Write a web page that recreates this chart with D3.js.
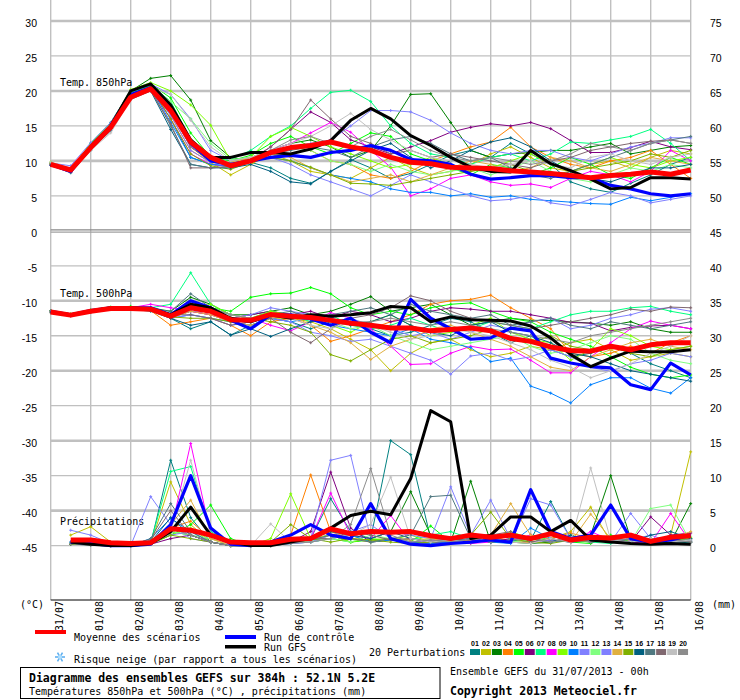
<!DOCTYPE html>
<html>
<head>
<meta charset="utf-8">
<script src="https://cdn.jsdelivr.net/npm/d3@7"></script>
<style>
  body { margin: 0; background: #fff; }
  svg text { font-family: "DejaVu Sans Mono", monospace; fill: #000; }
  .num { font-family: "Liberation Sans", Arial, sans-serif; font-size: 10.5px; }
</style>
</head>
<body>
<svg id="chart" width="740" height="700"></svg>
<script>
// time steps (h) : temperatures from 0h, precipitation from 12h
var hours = d3.range(0, 385, 12);
var rainHours = d3.range(12, 385, 12);
var dayLabels = ["31/07","01/08","02/08","03/08","04/08","05/08","06/08","07/08","08/08",
                 "09/08","10/08","11/08","12/08","13/08","14/08","15/08","16/08"];
var leftTicks = d3.range(30, -46, -5);
var pertLabels = ["01","02","03","04","05","06","07","08","09","10",
                  "11","12","13","14","15","16","17","18","19","20"];
var pertColors = ["#008080","#c0c000","#008000","#ff8000","#00ff00","#800080","#00ff80","#ff00ff","#80ff00","#0080ff",
                  "#8080ff","#80ff80","#8080ff","#e0b040","#80b000","#006080","#507880","#806870","#c0c0c0","#8c8c8c"];

// Temp. 850hPa (°C)
var t850Mean = [9.5,8.7,11.9,14.8,19.1,20.3,17.2,12.7,10.5,9.3, 10.0,11.2,11.9,12.2,12.7,12.0,11.5,10.5,9.8,9.6,
                9.1,9.0,8.9,8.6,8.4,8.2,7.9,7.6,7.9,8.1, 8.4,8.1,8.7];
var t850Ctrl = [9.5,8.5,12.0,15.0,19.5,20.5,17.5,12.5,10.0,9.5, 10.0,10.5,10.8,10.5,11.2,11.5,12.2,11.5,10.2,10.0,
                9.5,8.1,7.4,7.6,7.9,7.9,7.6,7.6,6.5,6.0, 5.3,5.0,5.3];
var t850Gfs = [9.5,8.7,12.0,15.0,20.0,21.0,18.0,13.0,10.5,10.5, 11.2,11.2,11.0,11.7,12.9,15.8,17.5,16.0,13.6,12.2,
               10.5,9.1,8.5,8.4,11.5,9.6,8.6,7.4,6.0,6.2, 7.6,7.6,7.4];
var t850Pert = [
  [9.6,8.4,11.5,14.5,19.2,20.4,16,10.5,9.5,9.2, 9.8,9.0,7.5,6.8,8.5,10.2,9.0,7.5,8.2,9.5, 10.8,11.5,10.5,12.5,11.0,9.5,7.0,6.0,5.5,6.8, 8.0,9.5,10.5],
  [9.8,8.6,12.2,14.8,19.5,20.8,17.5,12.0,9.8,8.0, 9.5,11.0,10.0,8.5,8.0,7.5,9.0,10.5,9.0,8.0, 8.5,9.5,11.0,12.0,10.5,9.0,8.5,9.5,10.0,9.0, 10.5,11.5,11.0],
  [9.5,8.5,12.0,15.0,20.0,21.8,22.2,18.7,12.9,10.5, 10.0,11.5,12.5,13.0,12.0,10.5,11.5,15.0,19.5,19.6, 15.5,11.5,10.5,11.0,11.2,11.5,11.5,12.0,12.5,11.0, 11.5,12.0,12.2],
  [9.4,8.6,12.0,14.5,19.0,20.5,16.5,11.5,9.8,9.5, 10.5,11.5,12.0,11.5,10.0,9.5,8.0,7.5,8.5,10.0, 11.0,12.0,12.7,14.8,12.0,10.5,9.5,9.0,10.0,10.5, 11.5,9.5,7.5],
  [9.7,8.8,12.5,15.5,20.0,21.0,19.0,14.0,10.5,10.0, 10.8,12.5,13.5,12.0,11.0,12.5,14.0,13.5,11.0,10.0, 9.0,8.0,9.5,9.0,8.0,9.0,10.5,9.5,8.0,7.5, 9.0,10.5,9.5],
  [9.5,8.4,11.8,14.8,19.2,20.6,17.0,12.0,10.0,9.5, 10.2,12.0,14.5,17.0,15.5,13.0,12.0,11.0,12.0,12.9, 14.1,14.8,15.3,15.0,15.5,14.6,12.9,11.2,11.2,11.9, 12.8,12.0,11.6],
  [9.6,8.7,12.3,15.2,19.8,20.8,18.5,13.0,10.5,10.2, 11.5,13.5,15.0,17.5,19.8,20.1,18.5,15.0,12.5,11.0, 10.5,9.5,10.5,11.0,10.0,11.0,12.7,12.5,13.0,13.5, 14.5,12.5,10.0],
  [9.4,8.5,11.9,14.6,19.0,20.2,16.0,11.0,9.5,9.2, 10.0,11.5,12.5,14.0,15.5,14.1,11.5,9.1,5.0,6.0, 7.5,8.0,7.0,6.5,6.7,6.2,7.5,8.5,8.0,7.0, 8.5,11.5,10.0],
  [9.8,8.9,12.4,15.3,20.2,21.2,20.0,18.0,15.1,10.0, 10.5,13.5,14.8,13.5,12.0,11.0,10.0,9.0,9.5,10.5, 9.5,8.5,9.0,10.0,11.0,9.5,8.5,9.5,10.5,9.5, 9.0,10.0,10.5],
  [9.5,8.6,12.0,14.8,19.4,20.4,15.5,10.5,9.5,9.3, 10.0,10.5,10.0,9.0,8.0,7.5,7.0,6.0,5.5,5.5, 5.0,5.3,4.8,5.0,4.5,4.3,4.1,3.9,3.8,4.8, 4.3,4.8,5.3],
  [9.7,9.3,12.6,15.5,20.0,21.0,19.5,16.0,11.5,10.0, 10.5,11.5,12.0,12.5,13.0,15.0,17.2,17.2,17.0,15.8, 14.0,12.5,11.5,11.0,11.5,11.5,10.5,10.0,11.0,12.0, 12.5,13.3,13.3],
  [9.5,8.7,12.1,15.0,19.6,20.6,18.5,16.0,12.5,10.2, 10.5,11.5,12.0,11.5,10.0,9.5,8.5,9.5,8.5,8.0, 8.5,9.0,8.0,9.0,10.0,8.5,7.5,7.0,8.0,9.0, 8.5,9.5,9.0],
  [9.4,8.4,11.8,14.4,19.2,20.2,16.5,11.5,9.8,9.5, 10.0,10.5,9.5,8.0,7.0,6.0,5.0,6.5,8.0,7.0, 6.0,5.0,4.3,4.5,5.0,4.0,3.6,4.5,5.5,5.0, 4.0,4.5,5.0],
  [9.6,8.6,12.0,14.9,19.5,20.6,17.5,12.5,10.0,9.8, 10.5,11.0,10.5,9.0,8.0,7.0,7.5,8.0,7.0,8.0, 9.0,10.0,9.5,8.5,9.0,10.5,10.0,9.0,8.5,9.5, 10.5,10.0,9.5],
  [9.5,8.5,11.9,14.7,19.3,20.5,16.0,11.0,9.3,8.8, 9.8,10.5,10.0,9.1,8.0,6.8,6.7,6.5,7.0,7.5, 8.0,8.5,9.0,9.5,8.5,8.0,8.5,9.0,9.5,10.0, 11.0,10.5,11.5],
  [9.4,8.3,11.6,14.3,18.8,20.0,14.5,9.5,9.0,9.0, 9.5,8.5,7.0,6.7,8.5,10.0,11.5,12.5,10.5,9.0, 10.0,11.5,12.7,13.3,12.0,10.0,8.5,7.5,7.0,8.0, 9.0,9.0,9.5],
  [9.5,8.6,12.0,14.8,19.0,20.2,15.0,9.5,9.0,9.2, 10.0,11.0,11.5,12.0,11.5,10.5,12.0,13.0,13.5,12.5, 11.0,10.0,10.5,9.0,8.0,7.5,8.5,9.5,10.5,11.5, 12.5,13.0,13.5],
  [9.5,8.4,11.8,14.6,19.2,20.0,15.3,9.0,9.0,9.2, 10.0,12.0,14.5,18.7,16.0,13.5,12.5,11.0,11.5,10.5, 11.0,10.5,10.0,9.5,9.0,10.0,10.5,11.5,12.0,12.5, 12.8,13.0,12.5],
  [9.8,9.0,11.5,14.0,18.8,20.5,19.5,15.8,12.0,10.0, 10.5,11.5,12.5,13.5,15.0,16.8,14.5,13.0,11.5,10.5, 10.0,9.5,9.0,9.5,10.0,9.5,9.0,10.5,11.0,10.0, 9.5,10.5,11.0],
  [9.5,8.6,12.0,14.8,19.4,20.6,17.0,12.0,10.0,9.6, 10.2,11.5,13.0,13.5,12.5,12.0,13.5,14.5,13.0,11.5, 10.5,10.0,10.5,10.0,9.5,10.0,11.0,12.5,12.0,11.5, 12.5,13.0,12.5]
];

// Temp. 500hPa (°C)
var t500Mean = [-11.6,-12.05,-11.5,-11.1,-11.1,-11.2,-12.2,-11.0,-11.5,-12.7, -12.8,-11.95,-12.2,-12.4,-12.8,-13.2,-13.5,-13.9,-13.9,-14.3,
                -14.1,-13.9,-14.3,-15.4,-15.8,-16.6,-17.1,-17.2,-16.5,-17.0, -16.3,-16.0,-16.0];
var t500Ctrl = [-11.5,-12.0,-11.4,-11.0,-11.0,-11.0,-12.0,-10.0,-11.0,-12.8, -14.0,-12.0,-12.0,-12.6,-13.5,-12.5,-14.5,-16.0,-9.8,-12.5,
                -14.0,-15.5,-15.3,-13.9,-14.3,-18.2,-18.9,-19.4,-19.6,-22.0, -22.7,-18.9,-20.6];
var t500Gfs = [-11.6,-12.0,-11.5,-11.0,-11.0,-11.2,-12.0,-10.5,-11.0,-12.5, -13.0,-12.0,-12.5,-12.0,-12.2,-12.0,-11.7,-10.8,-11.0,-13.0,
               -12.3,-12.7,-12.8,-12.9,-13.6,-15.3,-17.7,-19.4,-18.2,-17.2, -17.3,-17.3,-17.0];
var t500Pert = [
  [-11.5,-12.0,-11.4,-11.0,-11.2,-11.5,-12.5,-14.0,-13.0,-14.9, -13.5,-12.5,-13.0,-14.0,-13.0,-12.5,-14.0,-15.0,-14.5,-13.5, -12.5,-13.0,-14.5,-16.0,-15.0,-17.0,-18.0,-17.5,-16.5,-17.5, -19.0,-20.0,-21.0],
  [-11.7,-12.1,-11.6,-11.2,-11.0,-11.2,-12.3,-11.5,-12.0,-13.0, -13.5,-12.5,-12.5,-13.0,-14.0,-15.5,-17.0,-20.0,-17.5,-16.0, -15.5,-17.0,-18.0,-17.5,-16.5,-17.0,-16.0,-15.5,-17.0,-18.5, -18.0,-17.5,-18.0],
  [-11.6,-12.0,-11.5,-11.0,-11.0,-11.0,-11.5,-9.5,-10.5,-12.0, -12.0,-11.5,-11.0,-12.0,-11.5,-10.5,-9.4,-11.5,-11.0,-10.5, -12.0,-13.5,-13.0,-12.5,-12.8,-12.8,-13.0,-13.2,-13.5,-13.0, -14.0,-14.5,-14.5],
  [-11.5,-12.0,-11.6,-11.2,-11.2,-11.4,-13.5,-13.0,-12.5,-13.5, -15.0,-13.0,-12.5,-13.5,-15.8,-15.0,-14.0,-13.0,-12.0,-10.5, -10.0,-9.8,-9.2,-11.0,-12.5,-14.0,-17.5,-18.0,-17.5,-16.5, -17.5,-16.0,-15.0],
  [-11.4,-11.9,-11.3,-10.9,-10.8,-11.0,-12.0,-10.5,-11.0,-11.5, -9.5,-9.0,-8.9,-8.1,-9.0,-11.0,-12.0,-11.5,-12.0,-11.0, -10.5,-10.3,-11.5,-12.5,-13.0,-14.5,-15.5,-16.5,-18.0,-19.5, -20.5,-21.0,-20.6],
  [-11.5,-12.1,-11.5,-11.1,-11.2,-11.3,-12.4,-11.5,-12.0,-12.5, -12.0,-11.5,-12.0,-11.5,-12.5,-11.5,-12.0,-13.0,-12.5,-11.5, -11.0,-11.2,-11.5,-11.5,-12.0,-12.5,-13.1,-13.2,-14.3,-13.8, -13.6,-13.5,-14.0],
  [-11.6,-12.0,-11.5,-11.0,-11.0,-11.0,-10.5,-6.0,-10.5,-12.0, -12.5,-11.5,-12.0,-13.0,-12.0,-13.5,-14.0,-13.5,-12.5,-13.5, -14.5,-14.0,-13.0,-13.5,-14.0,-13.0,-12.0,-11.5,-11.5,-11.0, -10.8,-11.5,-12.0],
  [-11.6,-12.0,-11.4,-11.0,-11.0,-10.5,-11.0,-11.5,-12.0,-13.0, -12.5,-13.5,-14.3,-13.0,-11.7,-12.5,-14.0,-16.5,-19.1,-19.0, -17.5,-16.5,-17.0,-16.9,-18.5,-20.3,-20.3,-18.0,-16.0,-14.0, -12.9,-13.5,-14.0],
  [-11.5,-11.9,-11.4,-11.0,-11.1,-11.2,-12.0,-11.0,-10.5,-12.0, -12.5,-11.5,-12.0,-12.5,-13.5,-14.5,-13.0,-12.0,-13.5,-15.0, -14.5,-13.5,-12.5,-14.5,-15.5,-16.0,-18.5,-17.0,-14.0,-15.0, -16.5,-17.0,-16.5],
  [-11.5,-12.0,-11.5,-11.1,-11.0,-11.2,-12.5,-12.0,-12.5,-13.0, -13.5,-12.5,-13.0,-12.5,-13.5,-14.0,-14.5,-15.0,-14.0,-15.5, -16.0,-16.7,-18.7,-18.2,-22.2,-23.2,-24.6,-22.0,-21.0,-21.0, -22.5,-23.2,-21.0],
  [-11.7,-12.2,-11.6,-11.1,-11.0,-11.3,-12.0,-11.5,-11.5,-12.5, -12.0,-11.0,-11.5,-12.0,-13.0,-12.5,-13.5,-14.0,-15.0,-14.5, -15.5,-14.5,-13.5,-14.0,-13.0,-12.5,-14.0,-13.5,-12.5,-12.0, -11.2,-11.0,-11.5],
  [-11.6,-12.0,-11.5,-11.0,-11.0,-11.2,-12.2,-10.5,-11.5,-12.5, -13.0,-12.0,-12.5,-12.0,-13.0,-14.0,-13.5,-15.0,-16.0,-17.0, -16.5,-16.0,-15.5,-15.0,-16.5,-17.5,-17.0,-16.0,-15.0,-15.5, -17.5,-18.5,-19.0],
  [-11.5,-12.1,-11.6,-11.2,-11.2,-11.4,-12.5,-12.0,-12.5,-13.5, -13.0,-12.5,-13.0,-14.5,-15.0,-15.8,-15.5,-16.5,-17.5,-18.5, -20.5,-17.9,-17.5,-18.5,-18.0,-17.0,-18.0,-19.5,-20.1,-19.0, -18.5,-17.5,-18.0],
  [-11.6,-12.1,-11.5,-11.1,-11.0,-11.2,-12.5,-11.5,-12.0,-13.0, -13.5,-12.5,-12.0,-13.5,-14.5,-16.0,-18.4,-16.5,-15.5,-14.0, -13.5,-14.5,-15.5,-16.5,-18.0,-19.5,-20.0,-18.0,-17.0,-16.0, -15.5,-16.5,-17.0],
  [-11.5,-12.0,-11.6,-11.2,-11.2,-11.3,-12.3,-12.5,-12.5,-13.0, -12.5,-13.0,-13.5,-14.5,-17.7,-18.6,-17.0,-15.5,-15.0,-16.0, -15.5,-15.0,-14.0,-15.5,-16.0,-15.0,-16.5,-17.0,-16.5,-17.5, -18.0,-17.0,-16.5],
  [-11.6,-12.1,-11.6,-11.1,-11.0,-11.4,-12.5,-13.5,-13.0,-14.9, -14.0,-15.1,-14.0,-13.0,-12.5,-13.5,-13.0,-12.0,-13.5,-14.5, -15.0,-13.5,-13.0,-14.5,-15.0,-16.0,-17.5,-18.0,-19.0,-20.0, -20.5,-21.0,-21.5],
  [-11.5,-12.0,-11.5,-11.0,-11.0,-11.2,-11.5,-9.0,-11.0,-12.0, -12.5,-12.0,-11.5,-12.5,-12.0,-11.5,-11.0,-12.0,-10.5,-11.5, -12.0,-12.5,-12.0,-13.5,-13.0,-12.5,-13.5,-14.0,-13.0,-13.5, -14.0,-13.5,-13.0],
  [-11.5,-12.0,-11.5,-11.1,-11.1,-11.3,-12.0,-12.0,-12.5,-13.5, -13.0,-12.5,-14.5,-16.0,-14.0,-12.5,-12.0,-11.0,-9.3,-10.0, -11.5,-12.5,-13.0,-13.5,-14.0,-13.5,-13.0,-12.5,-12.0,-11.2, -11.5,-10.9,-11.0],
  [-11.6,-12.0,-11.5,-11.0,-11.0,-11.2,-12.0,-11.0,-11.0,-12.0, -12.5,-12.0,-12.5,-13.5,-14.0,-13.0,-13.5,-14.5,-15.5,-15.0, -14.0,-14.5,-15.0,-16.0,-17.0,-18.5,-19.5,-21.0,-20.0,-19.0, -17.5,-16.5,-15.0],
  [-11.5,-12.0,-11.5,-11.0,-11.0,-11.2,-12.0,-10.0,-11.0,-12.0, -12.5,-12.0,-12.0,-12.5,-12.5,-13.0,-13.0,-12.5,-13.0,-13.5, -13.0,-13.5,-14.0,-14.5,-15.0,-15.5,-16.0,-15.0,-14.5,-14.0, -13.5,-13.0,-12.5]
];

// Précipitations (mm / 12h step)
var rainMean = [0.8,0.8,0.4,0.3,0.4,2.4,2.2,1.5,0.5,0.4, 0.4,0.9,1.0,2.4,1.7,2.0,1.9,2.0,1.4,1.0,
                1.5,1.2,1.5,1.0,1.7,0.8,1.2,1.1,1.5,0.6, 1.2,1.4];
var rainCtrl = [0.5,0.3,0,0,0.2,3.0,10.0,2.5,0.2,0, 0.5,1.5,3.0,1.5,1.0,6.0,1.0,0.2,0,0.3,
                0.5,0.8,0.5,8.0,2.0,1.0,1.5,5.8,1.0,0.5, 0.8,1.5];
var rainGfs = [0.5,0.2,0,0,0.3,2.0,5.5,1.5,0.5,0, 0,0.5,1.0,2.5,4.3,4.9,4.4,9.6,19.3,17.7,
               1.0,1.5,4.1,4.1,2.0,3.6,0.8,0.5,0.3,0.2, 0.3,0.2];
var rainPert = [
  [0.5,0.3,0,0,0.3,12.2,4.0,0.5,0,0, 0.2,0.5,1.0,6.7,2.0,1.0,15.0,13.0,1.0,0.5, 0.8,0.5,1.0,0.8,6.3,1.0,0.5,0.8,0.5,1.0, 0.3,0.5],
  [1.5,2.7,0.5,0,0.2,9.1,3.0,0.5,0,0, 0,0.5,0.5,1.5,1.0,0.5,0.8,1.0,0.5,0.3, 0.5,1.0,0.8,0.5,1.0,2.0,5.5,0.5,1.0,0.5, 1.5,13.4],
  [0.3,0.2,0,0,0.5,2.0,1.5,0.5,0,0, 0.3,0.5,1.0,1.5,0.5,1.0,2.0,7.7,1.5,0.5, 9.2,0.5,0.5,0.3,0.5,1.0,1.5,10.0,1.0,0.3, 0.5,6.0],
  [0.2,0.3,0,0,0.3,2.5,3.5,1.0,0,0, 0.5,1.5,10.1,2.0,1.0,0.8,1.0,0.5,0.3,0.5, 1.0,1.5,0.5,0.5,1.0,1.8,1.0,0.5,0.8,0.5, 1.0,0.5],
  [0.3,0.2,0,0,0.2,1.5,3.0,5.8,1.0,0, 0,0.5,0.5,1.0,0.5,0.8,1.0,0.5,2.8,0.5, 0.3,1.0,0.5,1.5,0.8,0.5,0.3,1.5,0.5,1.0, 0.5,1.0],
  [0.2,0.1,0,0,0.2,1.0,1.5,0.5,0,0, 0,0.5,2.0,10.5,2.5,0.5,0.8,0.5,0.3,0.5, 0.8,0.5,1.0,0.5,0.8,0.5,1.0,0.5,0.5,4.1, 1.5,1.8],
  [0.4,0.3,0,0,0.5,10.6,11.3,2.0,0.5,0, 0,0.3,0.8,1.0,1.5,0.5,1.0,0.8,1.5,2.0, 1.0,0.5,0.8,1.0,0.5,0.8,0.5,0.3,1.0,0.5, 0.8,0.5],
  [0.3,0.2,0,0,0.2,2.0,14.6,1.5,0.3,0, 0,0.5,1.0,7.5,1.5,1.0,4.3,0.5,0.8,0.5, 0.3,0.5,0.8,1.5,1.0,0.5,2.0,0.8,0.5,0.3, 4.6,0.5],
  [0.3,0.2,0,0,0.3,1.5,2.5,0.5,0,0, 1.0,7.4,1.0,1.5,0.5,1.0,0.8,1.5,0.5,0.8, 0.5,1.0,2.0,1.0,0.5,1.5,0.8,1.0,0.5,1.0, 0.5,1.2],
  [0.2,0.1,0,0,1.0,3.9,2.0,0.5,0,0, 0,0.3,0.5,1.0,1.5,0.5,0.8,0.5,0.3,0.5, 1.0,0.5,0.3,2.5,1.0,0.5,0.8,0.5,1.0,0.5, 0.8,0.5],
  [2.2,1.5,0.3,0,7.0,3.0,1.0,0.5,0,0, 0.3,0.5,1.0,12.2,12.9,1.0,2.0,1.5,1.0,8.4, 1.5,6.5,1.0,0.5,0.8,0.5,1.0,0.5,4.6,1.0, 0.5,0.8],
  [0.3,0.2,0,0,0.2,2.0,1.5,1.0,0,0, 0.5,0.5,0.8,1.0,0.5,1.5,1.0,0.5,1.0,0.8, 0.5,1.0,0.5,0.8,1.0,0.5,1.5,1.0,0.5,5.3, 5.8,0.5],
  [0.5,0.3,0,0,0.5,1.5,2.0,0.5,0,0, 0,0.3,0.5,1.5,2.0,3.0,1.0,0.5,0.8,1.0, 0.5,1.0,0.5,6.7,5.8,1.0,0.5,1.0,0.8,1.5, 0.5,1.0],
  [0.3,0.2,0,0,0.3,3.0,6.5,1.0,0,0, 0,0.5,1.0,1.5,1.0,0.5,1.0,0.8,1.0,0.5, 0.8,1.5,6.0,1.5,1.0,0.5,4.5,1.0,0.5,0.8, 1.0,2.0],
  [0.2,0.1,0,0,0.3,1.5,1.0,0.5,0,0, 0.5,3.0,1.0,0.5,1.0,0.8,0.5,0.3,0.5,1.0, 1.5,4.8,1.0,0.5,0.3,0.8,0.5,1.0,1.5,0.5, 0.8,1.0],
  [0.3,0.2,0,0,0.5,4.0,1.5,0.5,0,0, 0,0.5,1.0,2.0,1.5,1.0,2.0,1.0,0.5,0.8, 1.0,0.5,0.8,1.0,0.5,1.5,0.5,1.0,0.5,1.5, 2.0,1.0],
  [0.3,0.5,0.2,0,1.0,6.0,2.0,0.5,0,0, 0,0.5,0.8,1.5,1.0,0.5,1.0,1.5,7.0,7.2, 1.0,0.5,0.8,1.0,0.5,0.8,1.0,0.5,0.5,1.0, 0.5,0.8],
  [0.3,0.2,0,0,0.8,5.0,1.5,0.5,0,0, 0,0.5,1.0,1.0,2.0,1.5,0.8,1.0,0.5,1.0, 0.5,1.5,2.0,0.5,1.0,0.5,0.8,0.5,1.0,0.5, 1.0,0.5],
  [0.3,0.2,0,0,0.3,2.0,12.2,1.5,0,0, 3.1,0.5,0.5,1.0,1.5,3.0,9.8,1.0,0.5,0.8, 0.5,1.0,0.5,0.3,1.0,0.5,11.1,0.8,0.5,1.0, 0.5,0.8],
  [0.3,0.2,0,0,0.5,2.5,1.5,0.5,0,0, 0,0.3,0.5,1.0,3.0,11.0,1.5,0.5,0.8,0.5, 1.0,0.5,0.8,1.0,0.5,1.0,0.5,0.8,1.0,0.5, 0.8,0.5]
];

var svg = d3.select("#chart");
var x = d3.scaleLinear().domain([0, 384]).range([50.7, 690.7]);
var y = d3.scaleLinear().domain([-45, 30]).range([545.6, 21]);
var rainY = function(p) { return y(-45 + p); };   // precip drawn against right axis (0 mm = -45)

// grid
var grid = svg.append("g");
grid.selectAll(".vl").data(d3.range(17)).enter().append("line")
  .attr("x1", function(d){ return x(d*24); }).attr("x2", function(d){ return x(d*24); })
  .attr("y1", 0).attr("y2", 600)
  .attr("stroke", "#c0c0c0").attr("stroke-width", 1.4);

grid.selectAll(".hl").data(leftTicks.filter(function(v){ return v !== 0; })).enter().append("line")
  .attr("x1", x(0)).attr("x2", x(384))
  .attr("y1", function(d){ return y(d); }).attr("y2", function(d){ return y(d); })
  .attr("stroke", "#c0c0c0")
  .attr("stroke-width", function(d){ return d % 10 === 0 ? 2.6 : 1.3; });

// double zero line
grid.append("line").attr("x1", x(0)).attr("x2", x(384)).attr("y1", y(0) - 1).attr("y2", y(0) - 1)
  .attr("stroke", "#888").attr("stroke-width", 1.2);
grid.append("line").attr("x1", x(0)).attr("x2", x(384)).attr("y1", y(0) + 1.2).attr("y2", y(0) + 1.2)
  .attr("stroke", "#a0a0a0").attr("stroke-width", 1.2);

// bottom axis
svg.append("line").attr("x1", x(0)).attr("x2", x(384)).attr("y1", 600).attr("y2", 600)
  .attr("stroke", "#000").attr("stroke-width", 1);

// axis labels
svg.selectAll(".lt").data(leftTicks).enter().append("text")
  .attr("class", "num").attr("x", 37).attr("y", function(d){ return y(d) + 6; })
  .attr("text-anchor", "end").text(function(d){ return d; });
svg.selectAll(".rt").data(leftTicks).enter().append("text")
  .attr("class", "num").attr("x", 710).attr("y", function(d){ return y(d) + 6; })
  .text(function(d){ return d + 45; });

svg.selectAll(".dl").data(dayLabels).enter().append("text")
  .attr("font-size", 10)
  .attr("transform", function(d, i){ return "translate(" + (x(i*24) + 12) + ",631) rotate(-90)"; })
  .text(function(d){ return d; });
svg.append("text").attr("x", 20).attr("y", 608).attr("font-size", 10).text("(°C)");
svg.append("text").attr("x", 712).attr("y", 608).attr("font-size", 10).text("(mm)");

// panel titles
svg.append("text").attr("x", 60).attr("y", 86).attr("font-size", 10).text("Temp. 850hPa");
svg.append("text").attr("x", 60).attr("y", 297).attr("font-size", 10).text("Temp. 500hPa");
svg.append("text").attr("x", 60).attr("y", 525).attr("font-size", 10).text("Précipitations");

// series drawing
function drawSeries(vals, hrs, fy, color, width, marks) {
  var line = d3.line().x(function(d, i){ return x(hrs[i]); }).y(function(d){ return fy(d); });
  svg.append("path").datum(vals).attr("d", line)
    .attr("fill", "none").attr("stroke", color).attr("stroke-width", width)
    .attr("stroke-linejoin", "round");
  if (marks) {
    svg.append("g").selectAll("path").data(vals).enter().append("path")
      .attr("d", function(d, i){
        var px = x(hrs[i]), py = fy(d);
        return "M" + (px - 1.5) + "," + py + "H" + (px + 1.5) + "M" + px + "," + (py - 1.5) + "V" + (py + 1.5);
      })
      .attr("stroke", color).attr("stroke-width", 1);
  }
}

t850Pert.forEach(function(s, k){ drawSeries(s, hours, y, pertColors[k], 1, true); });
t500Pert.forEach(function(s, k){ drawSeries(s, hours, y, pertColors[k], 1, true); });
rainPert.forEach(function(s, k){ drawSeries(s, rainHours, rainY, pertColors[k], 1, true); });

drawSeries(t850Ctrl, hours, y, "#0000ff", 3.2, false);
drawSeries(t500Ctrl, hours, y, "#0000ff", 3.2, false);
drawSeries(rainCtrl, rainHours, rainY, "#0000ff", 3.2, false);

drawSeries(t850Gfs, hours, y, "#000", 3, false);
drawSeries(t500Gfs, hours, y, "#000", 3, false);
drawSeries(rainGfs, rainHours, rainY, "#000", 3, false);

drawSeries(t850Mean, hours, y, "#ff0000", 5, false);
drawSeries(t500Mean, hours, y, "#ff0000", 5, false);
drawSeries(rainMean, rainHours, rainY, "#ff0000", 5, false);

// legend
var leg = svg.append("g").attr("font-size", 10);
leg.append("rect").attr("x", 35).attr("y", 630).attr("width", 31).attr("height", 4).attr("fill", "#ff0000");
leg.append("text").attr("x", 74).attr("y", 641).text("Moyenne des scénarios");
leg.append("rect").attr("x", 225).attr("y", 635).attr("width", 31).attr("height", 4).attr("fill", "#0000ff");
leg.append("text").attr("x", 264).attr("y", 641).text("Run de contrôle");
leg.append("rect").attr("x", 225).attr("y", 645).attr("width", 31).attr("height", 3.5).attr("fill", "#000");
leg.append("text").attr("x", 264).attr("y", 651).text("Run GFS");

var flake = leg.append("g").attr("transform", "translate(60,657)");
[0, 60, 120].forEach(function(a){
  flake.append("line").attr("x1", -5).attr("x2", 5).attr("y1", 0).attr("y2", 0)
    .attr("transform", "rotate(" + a + ")").attr("stroke", "#60b0f0").attr("stroke-width", 1.6);
});
flake.append("circle").attr("r", 2).attr("fill", "#b0e0ff");
leg.append("text").attr("x", 74).attr("y", 663).text("Risque neige (par rapport a tous les scénarios)");

leg.append("text").attr("x", 369).attr("y", 656).text("20 Perturbations");
var sw = leg.selectAll(".sw").data(pertLabels).enter().append("g")
  .attr("transform", function(d, i){ return "translate(" + (470 + i * 10.95) + ",0)"; });
sw.append("rect").attr("y", 649).attr("width", 10).attr("height", 6)
  .attr("fill", function(d, i){ return pertColors[i]; });
sw.append("text").attr("x", 5).attr("y", 645.5).attr("text-anchor", "middle")
  .attr("font-size", 7).attr("font-weight", "bold").style("font-family", "'Liberation Sans', Arial, sans-serif")
  .text(function(d){ return d; });

// title box
svg.append("rect").attr("x", 20.5).attr("y", 667.5).attr("width", 419.5).attr("height", 31)
  .attr("fill", "none").attr("stroke", "#000").attr("stroke-width", 1);
svg.append("text").attr("x", 29).attr("y", 682).attr("font-size", 11.5).attr("font-weight", "bold")
  .text("Diagramme des ensembles GEFS sur 384h : 52.1N 5.2E");
svg.append("text").attr("x", 29).attr("y", 695).attr("font-size", 10)
  .text("Températures 850hPa et 500hPa (°C) , précipitations (mm)");
svg.append("text").attr("x", 450).attr("y", 675).attr("font-size", 10)
  .text("Ensemble GEFS du 31/07/2013 - 00h");
svg.append("text").attr("x", 450).attr("y", 695).attr("font-size", 11.5).attr("font-weight", "bold")
  .text("Copyright 2013 Meteociel.fr");
</script>
</body>
</html>
